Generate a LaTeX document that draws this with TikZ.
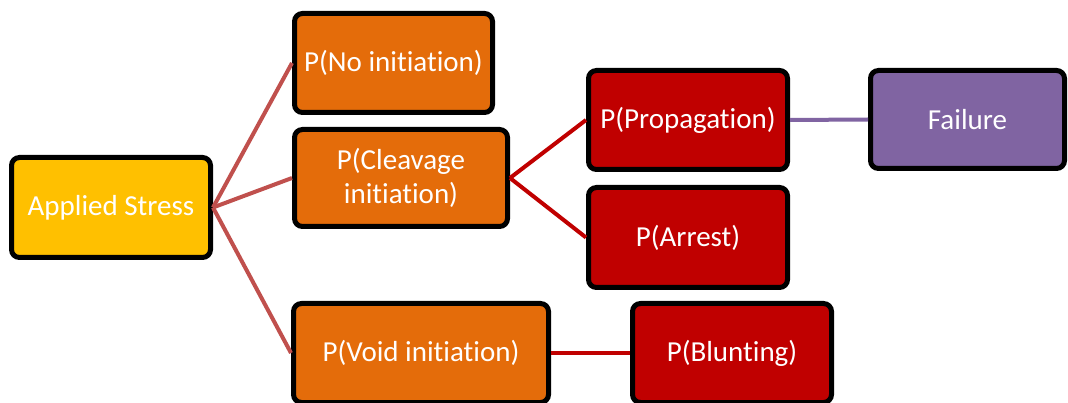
\documentclass[tikz,border=0pt]{standalone}
\usepackage{fontspec}
\setmainfont{Carlito}[Ligatures={NoCommon}]
\definecolor{stressyellow}{HTML}{FFC000}
\definecolor{initorange}{HTML}{E46C0A}
\definecolor{darkred}{HTML}{C00000}
\definecolor{failpurple}{HTML}{8064A2}
\definecolor{linkred}{HTML}{C0504D}
\tikzset{
  stage/.style={draw=black, line width=5pt, rounded corners=8pt, text=white,
    align=center, inner sep=0pt, font=\fontsize{29}{34}\selectfont},
  link/.style={line width=4pt}
}
\begin{document}
\begin{tikzpicture}[x=1pt,y=-1pt]
        \useasboundingbox (0,0) rectangle (1068,403);

        \node [stage, fill=stressyellow, minimum width=199pt, minimum height=100pt] (stress) at (111,207.5) {Applied Stress};
        \node [stage, fill=initorange, minimum width=198pt, minimum height=99pt] (noinit) at (393.5,63) {P(No initiation)};
        \node [stage, fill=initorange, minimum width=213pt, minimum height=97pt] (cleave) at (401,178) {P(Cleavage\\initiation)};
        \node [stage, fill=initorange, minimum width=255pt, minimum height=99pt] (void) at (421,353) {P(Void initiation)};
        \node [stage, fill=darkred, minimum width=199pt, minimum height=99pt] (prop) at (688,120) {P(Propagation)};
        \node [stage, fill=darkred, minimum width=199pt, minimum height=100pt] (arrest) at (688,237.5) {P(Arrest)};
        \node [stage, fill=darkred, minimum width=199pt, minimum height=99pt] (blunt) at (732,353) {P(Blunting)};
        \node [stage, fill=failpurple, minimum width=194pt, minimum height=98pt] (fail) at (967.5,119.5) {Failure};

        \draw [link, linkred] (stress.east) -- (noinit.west);
        \draw [link, linkred] (stress.east) -- (cleave.west);
        \draw [link, linkred] (stress.east) -- (void.west);

        \draw [link, darkred] (cleave.east) -- (prop.west);
        \draw [link, darkred] (cleave.east) -- (arrest.west);
        \draw [link, darkred] (void.east) -- (blunt.west);

        \draw [link, failpurple] (prop.east) -- (fail.west);
    \end{tikzpicture}
\end{document}
